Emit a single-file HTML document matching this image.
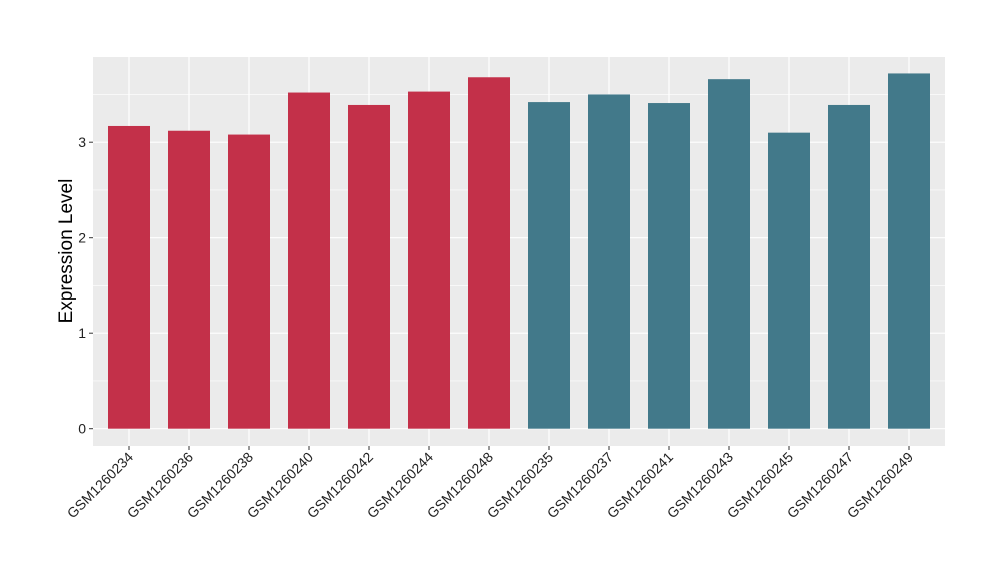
<!DOCTYPE html>
<html><head><meta charset="utf-8"><style>body{margin:0;background:#fff}svg{display:block;font-family:"Liberation Sans",sans-serif}</style></head>
<body>
<svg id="chart" width="1000" height="580" viewBox="0 0 1000 580">
<rect x="93" y="57" width="852" height="389" fill="#ebebeb"/>
<g id="grid"></g><g id="bars"></g><g id="axes"></g>
<text transform="translate(72,251) rotate(-90)" text-anchor="middle" font-size="19" fill="#000">Expression Level</text>
</svg>
<script>
const categories=["GSM1260234","GSM1260236","GSM1260238","GSM1260240","GSM1260242","GSM1260244","GSM1260248","GSM1260235","GSM1260237","GSM1260241","GSM1260243","GSM1260245","GSM1260247","GSM1260249"];
const values=[3.17,3.12,3.08,3.52,3.39,3.53,3.68,3.42,3.50,3.41,3.66,3.10,3.39,3.72];
const groups=["a","a","a","a","a","a","a","b","b","b","b","b","b","b"];
const yTicks=[0,1,2,3];
const yMinor=[0.5,1.5,2.5,3.5];
const colors={a:"#c33049",b:"#42798a"};
const NS="http://www.w3.org/2000/svg";
const y=v=>428.7-v*95.5;
const x=i=>129+i*60;
function mk(t,a,p){const e=document.createElementNS(NS,t);for(const k in a)e.setAttribute(k,a[k]);p.appendChild(e);return e;}
const grid=document.getElementById('grid'),bars=document.getElementById('bars'),axes=document.getElementById('axes');
yMinor.forEach(v=>{const l=mk('line',{x1:93,x2:945,y1:y(v),y2:y(v),stroke:'#fff','stroke-width':0.6},grid);

});
yTicks.forEach(v=>{const l=mk('line',{x1:93,x2:945,y1:y(v),y2:y(v),stroke:'#fff','stroke-width':1.2},grid);


const t=mk('line',{x1:89,x2:93,y1:y(v),y2:y(v),stroke:'#333','stroke-width':1},axes);


const tx=mk('text',{x:86,y:y(v)+5,'text-anchor':'end','font-size':14,fill:'#222'},axes);tx.textContent=v;

});
categories.forEach((c,i)=>{const g=mk('line',{x1:x(i),x2:x(i),y1:57,y2:446,stroke:'#fff','stroke-width':1.2},grid);


const b=mk('rect',{x:x(i)-21,y:y(values[i]),width:42,height:y(0)-y(values[i]),fill:colors[groups[i]]},bars);


const t=mk('line',{x1:x(i),x2:x(i),y1:446,y2:450,stroke:'#333','stroke-width':1},axes);


const tx=mk('text',{transform:`translate(${x(i)+5},${458}) rotate(-45)`,'text-anchor':'end','font-size':14,fill:'#222'},axes);tx.textContent=c;

});
</script>
</body></html>
